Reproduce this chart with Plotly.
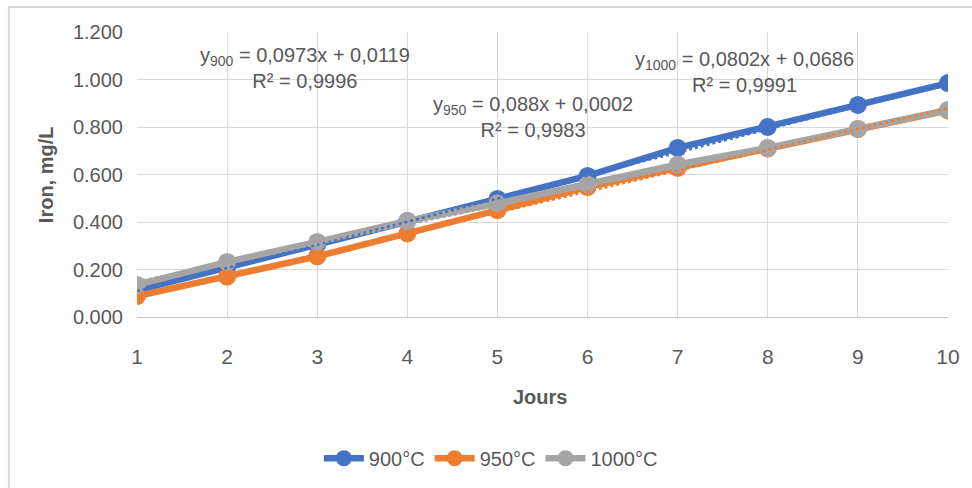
import plotly.graph_objects as go

# ---- data ----
days = [1, 2, 3, 4, 5, 6, 7, 8, 9, 10]
iron_900 = [0.112, 0.208, 0.305, 0.404, 0.497, 0.594, 0.712, 0.800, 0.893, 0.985]
iron_950 = [0.088, 0.170, 0.255, 0.352, 0.450, 0.547, 0.628, 0.710, 0.792, 0.870]
iron_1000 = [0.135, 0.232, 0.316, 0.404, 0.478, 0.558, 0.642, 0.712, 0.792, 0.872]
series_names = ["900°C", "950°C", "1000°C"]
slopes = [0.0973, 0.088, 0.0802]
intercepts = [0.0119, 0.0002, 0.0686]
r2_values = ["0,9996", "0,9983", "0,9991"]
eq_labels = [
    "y<sub>900</sub> = 0,0973x + 0,0119",
    "y<sub>950</sub> = 0,088x + 0,0002",
    "y<sub>1000</sub> = 0,0802x + 0,0686",
]
y_ticks = [0, 0.2, 0.4, 0.6, 0.8, 1.0, 1.2]

colors = ["#4472C4", "#ED7D31", "#A5A5A5"]
series = [iron_900, iron_950, iron_1000]
FONT = "Liberation Sans, Arial, sans-serif"
TXT = "#595959"

fig = go.Figure()
for name, vals, col in zip(series_names, series, colors):
    fig.add_trace(go.Scatter(
        x=days, y=vals, name=name, mode="lines+markers",
        line=dict(color=col, width=6.5),
        marker=dict(color=col, size=18),
    ))

# linear trendlines (from displayed coefficients)
for a, b, col in zip(slopes, intercepts, colors):
    xs = [days[0], days[-1]]
    fig.add_trace(go.Scatter(
        x=xs, y=[a * v + b for v in xs], mode="lines",
        line=dict(color=col, width=2.5, dash="dot"),
        showlegend=False, hoverinfo="skip",
    ))

ann_pos = [(0.207, 0.874), (0.488, 0.702), (0.749, 0.86)]
annotations = []
for (ax, ay), eq, r2 in zip(ann_pos, eq_labels, r2_values):
    annotations.append(dict(
        x=ax, y=ay, xref="paper", yref="paper", showarrow=False,
        text=f"{eq}<br>R² = {r2}", align="center",
        font=dict(family=FONT, size=20, color=TXT),
        xanchor="center", yanchor="middle",
    ))
annotations.append(dict(
    x=0.497, y=-0.281, xref="paper", yref="paper", showarrow=False,
    text="<b>Jours</b>", font=dict(family=FONT, size=20, color=TXT),
    xanchor="center", yanchor="middle",
))
annotations.append(dict(
    x=-0.1126, y=0.50, xref="paper", yref="paper", showarrow=False,
    text="<b>Iron, mg/L</b>", textangle=-90,
    font=dict(family=FONT, size=20, color=TXT),
    xanchor="center", yanchor="middle",
))

fig.update_layout(
    width=972, height=488,
    margin=dict(l=137, r=18, t=32, b=171),
    paper_bgcolor="white", plot_bgcolor="white",
    font=dict(family=FONT, size=20, color=TXT),
    annotations=annotations,
    showlegend=True,
    legend=dict(
        orientation="h", xref="container", yref="container",
        x=0.505, y=0.061, xanchor="center", yanchor="middle",
        font=dict(family=FONT, size=20, color=TXT),
        itemwidth=40, tracegroupgap=0,
    ),
    shapes=[dict(
        type="rect", xref="paper", yref="paper",
        x0=-0.158, x1=1.2, y0=-0.8, y1=1.0877,
        line=dict(color="#d9d9d9", width=2), layer="below",
    )],
)
fig.update_xaxes(
    range=[1, 10], tickvals=days, showgrid=True, gridcolor="#d9d9d9",
    gridwidth=1, showline=True, linecolor="#c8c8c8", linewidth=1,
    zeroline=False, ticks="", ticklabelstandoff=21,
    tickfont=dict(family=FONT, size=21, color=TXT),
)
fig.update_yaxes(
    range=[0, 1.2], tickvals=y_ticks, tickformat=".3f",
    showgrid=True, gridcolor="#d9d9d9", gridwidth=1,
    showline=False, zeroline=False, ticks="", ticklabelstandoff=13,
    tickfont=dict(family=FONT, size=20, color=TXT),
)

fig.write_html("out.html")
